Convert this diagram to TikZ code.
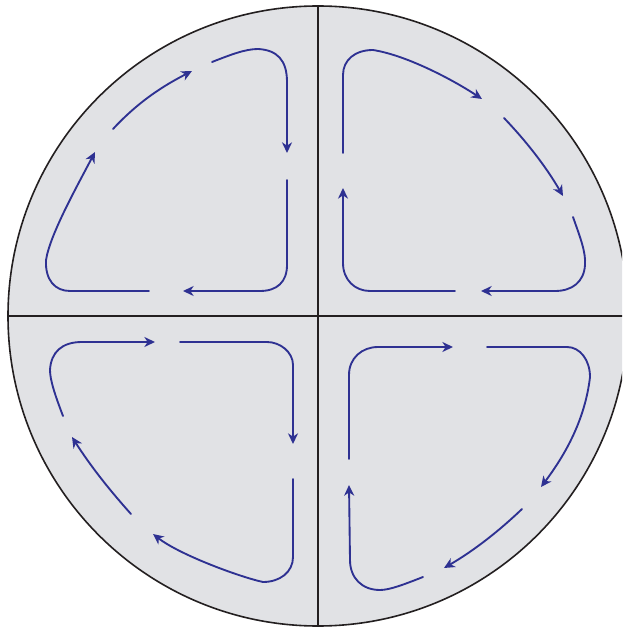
\documentclass[tikz,border=0pt]{standalone}
\usetikzlibrary{arrows.meta}
\definecolor{cellgray}{RGB}{225,226,229}
\definecolor{flowblue}{RGB}{46,49,146}
\definecolor{rimblack}{RGB}{35,31,32}
\begin{document}
\begin{tikzpicture}[x=0.75pt,y=-0.75pt,
  rim/.style={draw=rimblack,line width=1.2pt},
  flow/.style={draw=flowblue,line width=1.4pt,line cap=round},
  >={Stealth[length=8pt,width=7.5pt,inset=2.5pt]}]
\clip (0,0) rectangle (622,630);
\useasboundingbox (0,0) rectangle (622,630);
\fill[cellgray] (318,316) circle (310);
\draw[rim] (318,316) circle (310);
\draw[rim] (318,6)--(318,626);
\draw[rim] (8,316)--(628,316);
% upper left cell
\draw[flow,->] (212,62) .. controls (230,55) and (245,49) .. (258,49) .. controls (277,50) and (287,60) .. (287,82) -- (287,153);
\draw[flow,->] (287,180) -- (287,265) .. controls (287,282) and (277,291) .. (260,291) -- (183,291);
\draw[flow,->] (149,291) -- (70,291) .. controls (55,291) and (45,280) .. (46,260) .. controls (50,235) and (75,190) .. (95,152);
\draw[flow,->] (113,129) .. controls (140,100) and (165,85) .. (192,71);
% upper right cell
\draw[flow,->] (343,153) -- (343,75) .. controls (343,60) and (355,50) .. (373,50) .. controls (405,55) and (450,78) .. (482,99);
\draw[flow,->] (504,118) .. controls (525,140) and (545,165) .. (563,196);
\draw[flow,->] (573,217) .. controls (580,237) and (586,252) .. (585,265) .. controls (584,282) and (572,291) .. (555,291) -- (481,291);
\draw[flow,->] (455,291) -- (370,291) .. controls (355,291) and (343,280) .. (343,263) -- (343,188);
% lower left cell
\draw[flow,->] (63,416) .. controls (55,395) and (50,380) .. (50,370) .. controls (51,352) and (62,342) .. (82,342) -- (155,342);
\draw[flow,->] (180,342) -- (267,342) .. controls (280,342) and (293,352) .. (293,365) -- (293,444);
\draw[flow,->] (293,479) -- (293,557) .. controls (293,572) and (280,582) .. (263,582) .. controls (240,577) and (180,555) .. (153,534);
\draw[flow,->] (131,514) .. controls (105,485) and (88,462) .. (72,437);
% lower right cell
\draw[flow,->] (349,459) -- (349,375) .. controls (349,358) and (362,347) .. (378,347) -- (453,347);
\draw[flow,->] (487,347) -- (567,347) .. controls (580,347) and (590,360) .. (590,377) .. controls (585,420) and (565,455) .. (541,487);
\draw[flow,->] (522,509) .. controls (500,530) and (475,550) .. (444,568);
\draw[flow,->] (423,577) .. controls (405,584) and (390,590) .. (380,590) .. controls (362,590) and (350,578) .. (350,560) -- (349,485);
\end{tikzpicture}
\end{document}
